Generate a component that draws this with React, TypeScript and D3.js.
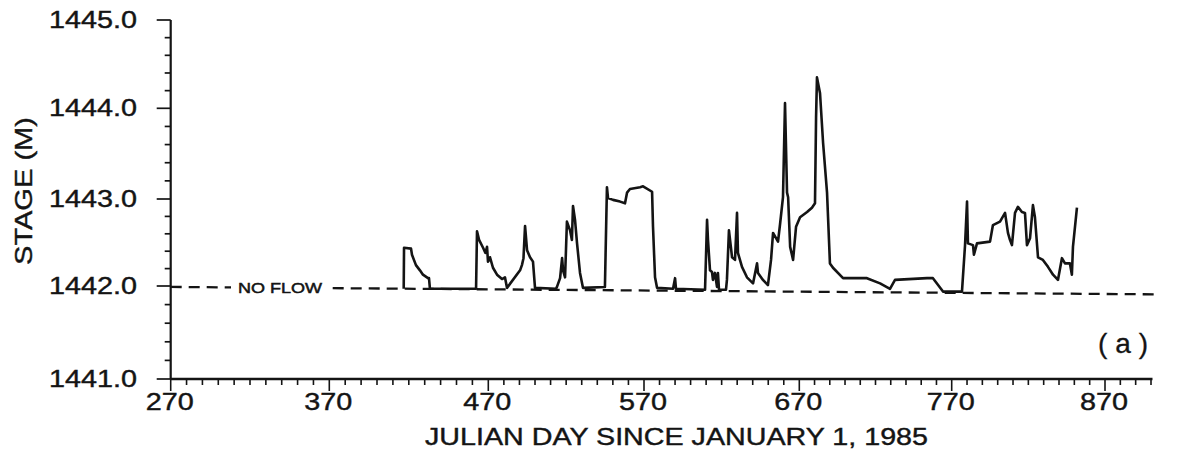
import React, { useEffect } from "react";
import * as d3 from "d3";

// ---- data ----
const xTickValues = [270, 370, 470, 570, 670, 770, 870];
const xTickLabels = ["270", "370", "470", "570", "670", "770", "870"];
const yTickValues = [1441, 1442, 1443, 1444, 1445];
const yTickLabels = ["1441.0", "1442.0", "1443.0", "1444.0", "1445.0"];

// Julian day since Jan 1 1985, stage (m)
const stageSeries: [number, number][] = [
  [416.8, 1441.97], [417.0, 1442.44], [421.4, 1442.43], [422.0, 1442.36], [424.5, 1442.24],
  [427.0, 1442.18], [428.9, 1442.13], [432.1, 1442.09], [432.7, 1442.09], [433.3, 1441.97],
  [462.3, 1441.97], [462.9, 1442.63], [464.2, 1442.53], [466.7, 1442.44], [468.2, 1442.38],
  [469.2, 1442.45], [469.8, 1442.28], [471.1, 1442.33], [473.0, 1442.21], [475.6, 1442.13],
  [478.8, 1442.08], [480.7, 1442.1], [482.0, 1441.98], [490.4, 1442.18], [491.6, 1442.24],
  [492.6, 1442.32], [493.6, 1442.69], [494.9, 1442.41], [496.8, 1442.33], [498.7, 1442.28],
  [500.0, 1441.98], [513.5, 1441.97], [514.1, 1441.99], [516.1, 1442.09], [517.4, 1442.32],
  [518.0, 1442.18], [519.3, 1442.1], [520.5, 1442.74], [522.5, 1442.64], [523.7, 1442.53],
  [524.4, 1442.92], [525.7, 1442.76], [527.0, 1442.49], [528.9, 1442.15], [530.8, 1441.98],
  [544.9, 1441.99], [546.2, 1443.13], [546.9, 1443.01], [550.1, 1442.99], [554.6, 1442.97],
  [557.8, 1442.95], [559.1, 1443.07], [561.0, 1443.11], [567.5, 1443.13], [569.4, 1443.14],
  [575.2, 1443.08], [575.8, 1442.68], [577.1, 1442.1], [578.4, 1441.98], [588.7, 1441.97],
  [590.0, 1442.09], [590.6, 1441.97], [609.3, 1441.96], [610.6, 1442.76], [611.2, 1442.53],
  [612.5, 1442.18], [613.8, 1442.16], [614.4, 1442.07], [615.7, 1442.15], [617.0, 1441.99],
  [617.6, 1442.15], [618.3, 1441.96], [622.8, 1441.96], [623.4, 1442.07], [624.7, 1442.64],
  [626.7, 1442.33], [628.6, 1442.3], [629.9, 1442.84], [630.5, 1442.38], [633.1, 1442.22],
  [636.3, 1442.1], [640.2, 1442.03], [642.8, 1442.26], [643.4, 1442.15], [646.6, 1442.07],
  [649.8, 1442.01], [651.8, 1442.3], [653.1, 1442.61], [656.3, 1442.51], [657.6, 1442.71],
  [659.5, 1443.02], [660.8, 1444.06], [662.1, 1443.07], [662.8, 1443.02], [664.1, 1442.45],
  [666.0, 1442.3], [667.9, 1442.68], [670.5, 1442.79], [675.1, 1442.85], [678.3, 1442.9],
  [680.3, 1442.95], [681.0, 1443.9], [681.6, 1444.35], [683.6, 1444.17], [685.6, 1443.62],
  [688.2, 1443.07], [690.1, 1442.26], [692.1, 1442.21], [698.7, 1442.09], [714.4, 1442.09],
  [723.0, 1442.03], [729.5, 1441.97], [732.8, 1442.07], [753.8, 1442.09], [757.7, 1442.09],
  [764.3, 1441.94], [776.7, 1441.94], [778.7, 1442.47], [780.0, 1442.97], [780.6, 1442.49],
  [783.9, 1442.47], [784.5, 1442.36], [786.5, 1442.49], [795.0, 1442.51], [796.9, 1442.7],
  [801.5, 1442.74], [804.8, 1442.84], [806.7, 1442.61], [808.0, 1442.53], [809.3, 1442.47],
  [811.3, 1442.84], [813.2, 1442.91], [815.8, 1442.85], [817.8, 1442.84], [819.1, 1442.47],
  [821.1, 1442.55], [823.0, 1442.93], [824.3, 1442.79], [826.3, 1442.33], [829.5, 1442.3],
  [832.8, 1442.22], [836.1, 1442.13], [839.3, 1442.07], [841.9, 1442.32], [843.9, 1442.26],
  [847.1, 1442.26], [848.4, 1442.13], [849.1, 1442.45], [851.7, 1442.9],
];

// "no flow" reference level, as drawn on the scanned sheet
const noFlowLine: [number, number][] = [[270, 1441.99], [903.9, 1441.91]];

const xTitle = "JULIAN DAY SINCE JANUARY 1, 1985";
const yTitle = "STAGE (M)";
const noFlowLabel = "NO FLOW";
const panelLabel = "(a)";

const W = 1195;
const H = 459;
const FONT = "'Liberation Sans', Arial, sans-serif";
const INK = "#141414";

export default function App() {
  useEffect(() => {
    document.body.style.margin = "0";
    document.body.style.background = "#fff";
  }, []);

  // axis calibration follows the tick marks of the scanned original
  const x = d3
    .scaleLinear()
    .domain([270, 370, 470, 570, 670, 770, 870, 900])
    .range([170.7, 329.3, 488.3, 644, 799.3, 951.7, 1105, 1151]);
  const y = d3
    .scaleLinear()
    .domain([1441, 1442, 1443, 1444, 1445])
    .range([379, 286, 199, 108.3, 20]);

  const xMinor = d3.range(270, 901, 10);
  const yMinor = d3.range(0, 21).map((i) => 1441 + i * 0.2);

  const line = d3
    .line<[number, number]>()
    .x((d) => x(d[0]))
    .y((d) => y(d[1]));

  const x0 = x(270);
  const yBase = y(1441);

  return (
    <svg
      width={W}
      height={H}
      style={{ position: "absolute", left: 0, top: 0, background: "#fff" }}
      fontFamily={FONT}
    >
      {/* axes */}
      <line x1={x0} y1={y(1445)} x2={x0} y2={yBase} stroke={INK} strokeWidth={2.2} />
      <line x1={x0} y1={yBase} x2={x(900) + 1.5} y2={yBase} stroke={INK} strokeWidth={2.6} />

      {/* y ticks */}
      {yMinor.map((v, i) => {
        const major = i % 5 === 0;
        return (
          <line
            key={"yt" + i}
            x1={x0 - (major ? 14 : 6)}
            x2={x0}
            y1={y(v)}
            y2={y(v)}
            stroke={INK}
            strokeWidth={1.7}
          />
        );
      })}
      {/* x ticks */}
      {xMinor.map((v, i) => {
        const major = (v - 270) % 100 === 0;
        return (
          <line
            key={"xt" + i}
            x1={x(v)}
            x2={x(v)}
            y1={yBase}
            y2={yBase + (major ? 12 : 6)}
            stroke={INK}
            strokeWidth={1.6}
          />
        );
      })}

      {/* y tick labels */}
      {yTickValues.map((v, i) => (
        <text
          key={"yl" + i}
          x={137}
          y={y(v) + 8}
          textAnchor="end"
          fontSize={23}
          fill={INK}
          stroke={INK}
          strokeWidth={0.4}
          textLength={88}
          lengthAdjust="spacingAndGlyphs"
        >
          {yTickLabels[i]}
        </text>
      ))}
      {/* x tick labels */}
      {xTickValues.map((v, i) => (
        <text
          key={"xl" + i}
          x={x(v) - 1}
          y={410}
          textAnchor="middle"
          fontSize={23}
          fill={INK}
          stroke={INK}
          strokeWidth={0.4}
          textLength={48}
          lengthAdjust="spacingAndGlyphs"
        >
          {xTickLabels[i]}
        </text>
      ))}

      {/* axis titles */}
      <text
        x={425}
        y={445}
        fontSize={23}
        fill={INK}
        stroke={INK}
        strokeWidth={0.4}
        textLength={503}
        lengthAdjust="spacingAndGlyphs"
      >
        {xTitle}
      </text>
      <text
        transform={`translate(32,${191}) rotate(-90)`}
        textAnchor="middle"
        fontSize={24}
        fill={INK}
        stroke={INK}
        strokeWidth={0.4}
        textLength={148}
        lengthAdjust="spacingAndGlyphs"
      >
        {yTitle}
      </text>

      {/* no-flow dashed line */}
      <path
        d={line(noFlowLine) || ""}
        fill="none"
        stroke={INK}
        strokeWidth={2.3}
        strokeDasharray="11 7"
      />
      <rect x={231} y={277} width={100} height={20} fill="#fff" />
      <text
        x={238}
        y={292.5}
        fontSize={15}
        fill={INK}
        stroke={INK}
        strokeWidth={0.5}
        textLength={84}
        lengthAdjust="spacingAndGlyphs"
      >
        {noFlowLabel}
      </text>

      {/* stage series */}
      <path
        d={line(stageSeries) || ""}
        fill="none"
        stroke={INK}
        strokeWidth={2.6}
        strokeLinejoin="round"
      />

      {/* panel label */}
      <text
        x={1098}
        y={353}
        fontSize={28}
        fill={INK}
        stroke={INK}
        strokeWidth={0.3}
        textLength={50}
        lengthAdjust="spacing"
      >
        {panelLabel}
      </text>
    </svg>
  );
}
